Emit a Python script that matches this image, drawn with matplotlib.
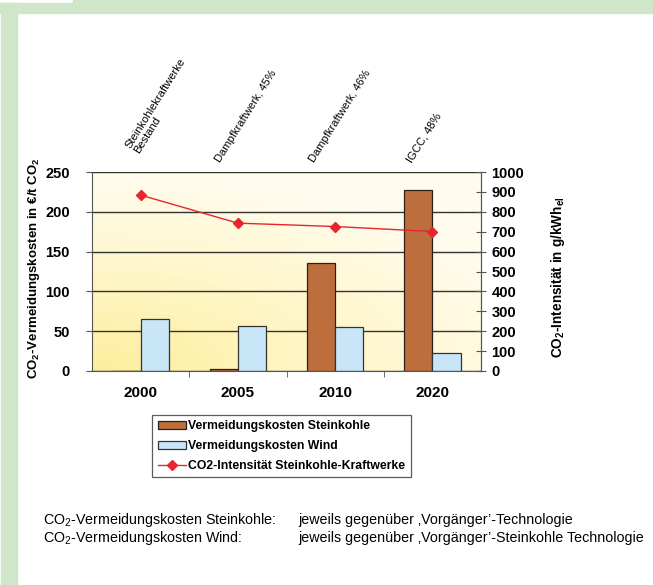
import numpy as np
import matplotlib
matplotlib.use('Agg')
import matplotlib.pyplot as plt
from matplotlib.colors import LinearSegmentedColormap
from matplotlib.patches import Rectangle
from matplotlib.transforms import blended_transform_factory

# data
years = ['2000', '2005', '2010', '2020']
techs = ['Steinkohlekraftwerke\nBestand', 'Dampfkraftwerk, 45%',
         'Dampfkraftwerk, 46%', 'IGCC, 48%']
kosten_steinkohle = [0, 3, 136, 228]
kosten_wind = [65, 56, 55, 23]
co2_intensitaet = [884, 743, 726, 701]

plt.rcParams['font.family'] = ['Liberation Sans', 'DejaVu Sans']
plt.rcParams['mathtext.default'] = 'regular'

W, H = 653, 585
fig = plt.figure(figsize=(W / 100, H / 100), dpi=100)
fig.patch.set_facecolor('white')

# green frame
green = '#cfe6c8'
for x0, y0, w, h in [(73, 0, 580, 13), (0, 3, 73, 10), (1, 3, 16, 582)]:
    fig.patches.append(Rectangle((x0 / W, 1 - (y0 + h) / H), w / W, h / H,
                                 transform=fig.transFigure, color=green,
                                 zorder=0))

ax = fig.add_axes([92 / W, 1 - 371 / H, (481 - 92) / W, (371 - 172) / H])

# yellow gradient background
gx, gy = np.meshgrid(np.linspace(0, 1, 200), np.linspace(0, 1, 200))
grad = np.clip(1 - np.sqrt((gx * 0.9) ** 2 + (gy * 1.1) ** 2) / 1.1, 0, 1)
cmap = LinearSegmentedColormap.from_list('bg', ['#fffcee', '#fff6c8', '#fdee9c'])
ax.imshow(grad, extent=[0, 1, 0, 1], transform=ax.transAxes, origin='lower',
          aspect='auto', cmap=cmap, zorder=0)

x = np.arange(len(years))
w = 0.29
ax.bar(x - w / 2, kosten_steinkohle, w, color='#bd6e3c', edgecolor='#2b2018',
       linewidth=0.9, zorder=2, label='Vermeidungskosten Steinkohle')
ax.bar(x + w / 2, kosten_wind, w, color='#c8e6f8', edgecolor='#333333',
       linewidth=0.9, zorder=2, label='Vermeidungskosten Wind')

ax.set_xlim(-0.5, len(years) - 0.5)
ax.set_ylim(0, 250)
ax.set_yticks(range(0, 251, 50))
ax.set_axisbelow(True)
ax.yaxis.grid(True, color='#333333', linewidth=1.0)
ax.set_xticks(x)
ax.set_xticklabels(years, fontsize=11, fontweight='bold')
ax.set_xticks(x[:-1] + 0.5, minor=True)
ax.tick_params(axis='x', which='major', length=0, pad=11)
ax.tick_params(axis='x', which='minor', length=4, color='#555555')
ax.tick_params(axis='y', length=4, color='#555555', pad=12, labelsize=10.5)
for lab in ax.get_yticklabels():
    lab.set_fontweight('bold')
for s in ['left', 'bottom', 'right', 'top']:
    ax.spines[s].set_color('#555555')
ax.spines['top'].set_visible(False)

ax2 = ax.twinx()
ax2.plot(x, co2_intensitaet, color='#e8242c', linewidth=1.0, marker='D',
         markersize=5.5, zorder=3, label='CO2-Intensität Steinkohle-Kraftwerke')
ax2.set_ylim(0, 1000)
ax2.set_yticks(range(0, 1001, 100))
ax2.tick_params(axis='y', direction='inout', length=7, color='#555555',
                pad=4, labelsize=10.5)
for lab in ax2.get_yticklabels():
    lab.set_fontweight('bold')
for s in ['left', 'bottom', 'right', 'top']:
    ax2.spines[s].set_visible(False)
ax2.spines['right'].set_visible(True)
ax2.spines['right'].set_color('#555555')

# axis titles
fig.text(34 / W, 1 - 268 / H, 'CO$_2$-Vermeidungskosten in €/t CO$_2$',
         rotation=90, ha='center', va='center', fontsize=9.5, fontweight='bold')
fig.text(558 / W, 1 - 277 / H, 'CO$_2$-Intensität in g/kWh$_{el}$',
         rotation=90, ha='center', va='center', fontsize=9.8, fontweight='bold')

# technology notes above the plot
note_shift = [(-0.0, 1.085), (-0.16, 1.04), (-0.2, 1.04), (-0.2, 1.04)]
trans = blended_transform_factory(ax.transData, ax.transAxes)
for i, t in enumerate(techs):
    dx, yy = note_shift[i]
    ax.text(i + dx, yy, t, transform=trans, rotation=58, rotation_mode='anchor',
            ha='left', va='bottom', fontsize=8, linespacing=1.0, clip_on=False)

# legend
h1, l1 = ax.get_legend_handles_labels()
h2, l2 = ax2.get_legend_handles_labels()
leg = fig.legend(h1 + h2, l1 + l2, loc='upper left',
                 bbox_to_anchor=(152 / W, 1 - 415 / H), borderaxespad=0,
                 prop={'size': 8.8, 'weight': 'bold'}, frameon=True,
                 fancybox=False, edgecolor='#333333', handlelength=2.3,
                 handleheight=0.6, handletextpad=0.2, labelspacing=0.62,
                 borderpad=0.45)
leg.get_frame().set_linewidth(0.9)

# footnotes
fs = 10.3
fig.text(43 / W, 1 - 520 / H, 'CO$_2$-Vermeidungskosten Steinkohle:',
         fontsize=fs, va='center')
fig.text(43 / W, 1 - 538 / H, 'CO$_2$-Vermeidungskosten Wind:',
         fontsize=fs, va='center')
fig.text(298 / W, 1 - 520 / H, 'jeweils gegenüber \u201aVorgänger\u2019-Technologie',
         fontsize=fs, va='center')
fig.text(298 / W, 1 - 538 / H,
         'jeweils gegenüber \u201aVorgänger\u2019-Steinkohle Technologie',
         fontsize=fs, va='center')

fig.savefig('out.png', dpi=100)
